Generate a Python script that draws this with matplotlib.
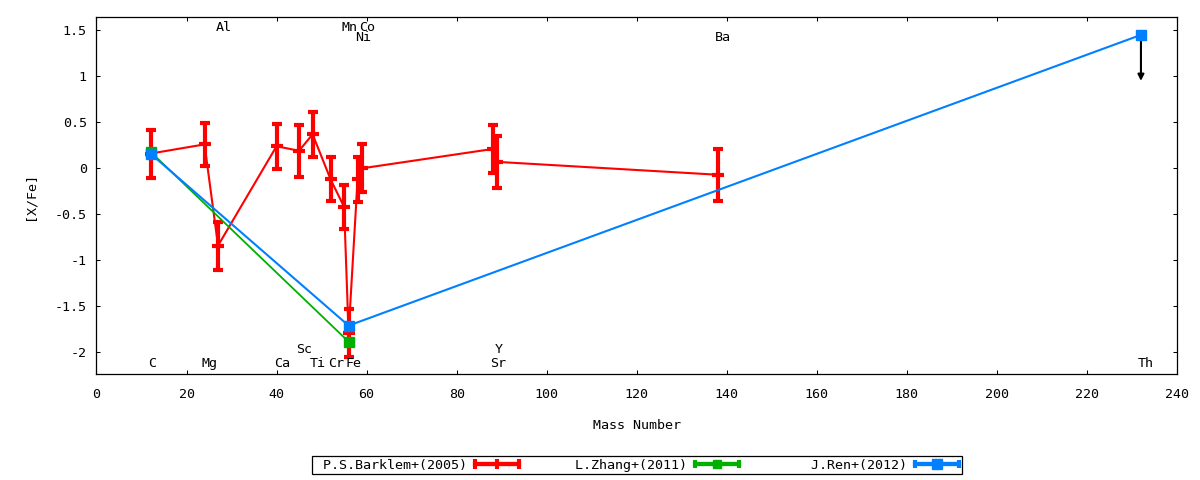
import numpy as np
import matplotlib
matplotlib.use("Agg")
import matplotlib.pyplot as plt
from matplotlib.container import ErrorbarContainer
from matplotlib.legend_handler import HandlerErrorbar
from matplotlib.ticker import MultipleLocator, FuncFormatter

plt.rcParams["font.family"] = "DejaVu Sans Mono"
plt.rcParams["font.size"] = 9.6
plt.rcParams["axes.unicode_minus"] = False

# P.S.Barklem+(2005)
barklem_mass = [12, 24, 27, 40, 45, 48, 52, 55, 56, 58, 59, 88, 89, 138]
barklem_xfe = [0.16, 0.26, -0.84, 0.24, 0.19, 0.37, -0.12, -0.42, -1.79, -0.12, 0.00, 0.21, 0.07, -0.07]
barklem_err = [0.26, 0.235, 0.26, 0.245, 0.28, 0.245, 0.24, 0.24, 0.26, 0.245, 0.26, 0.26, 0.28, 0.28]

# L.Zhang+(2011)
zhang_mass = [12, 56]
zhang_xfe = [0.18, -1.885]

# J.Ren+(2012), Th is an upper limit
ren_mass = [12, 56, 232]
ren_xfe = [0.16, -1.71, 1.45]
ren_upper = [False, False, True]

# element labels
elem_names = ["C", "Mg", "Al", "Ca", "Sc", "Ti", "Cr", "Mn", "Fe", "Ni", "Co", "Sr", "Y", "Ba", "Th"]
elem_mass = [12, 24, 27, 40, 45, 48, 52, 55, 56, 58, 59, 88, 89, 138, 232]
elem_y = [-2.12, -2.12, 1.53, -2.12, -1.965, -2.12, -2.12, 1.53, -2.12, 1.425, 1.53, -2.12, -1.965, 1.425, -2.12]

series_labels = ["P.S.Barklem+(2005)", "L.Zhang+(2011)", "J.Ren+(2012)"]

red = "#ff0000"
green = "#00b000"
blue = "#0080ff"

fig = plt.figure(figsize=(12, 4.8), dpi=100)
ax = fig.add_axes([0.0804, 0.2208, 0.9004, 0.7431])

ax.errorbar(barklem_mass, barklem_xfe, yerr=barklem_err, color=red, lw=1.5,
            elinewidth=3, capsize=3.6, capthick=3, marker="_", ms=8.5, mew=3, zorder=2)
ax.plot(zhang_mass, zhang_xfe, color=green, lw=1.3, marker="s", ms=7.5, zorder=3)
ax.plot(ren_mass, ren_xfe, color=blue, lw=1.5, marker="s", ms=7.5, zorder=4)

arrow_len = 0.5
for m, v, up in zip(ren_mass, ren_xfe, ren_upper):
    if up:
        ax.annotate("", xy=(m, v - arrow_len), xytext=(m, v),
                    arrowprops=dict(arrowstyle="-|>", color="black", lw=1.5,
                                    mutation_scale=9, shrinkA=0, shrinkB=0),
                    zorder=3)

for name, m, y in zip(elem_names, elem_mass, elem_y):
    ax.text(m - 0.6, y, name, ha="left", va="center")

ax.set_xlim(0, 240)
ax.set_ylim(-2.236, 1.641)
ax.xaxis.set_major_locator(MultipleLocator(20))
ax.yaxis.set_major_locator(MultipleLocator(0.5))
ax.yaxis.set_major_formatter(FuncFormatter(lambda v, p: "%g" % round(v, 3) if abs(v) > 1e-9 else "0"))
ax.tick_params(direction="in", top=True, right=True, length=3.2, width=0.75)
ax.tick_params(axis="x", pad=10)
ax.tick_params(axis="y", pad=7)
for s in ax.spines.values():
    s.set_linewidth(0.9)

ax.set_xlabel("Mass Number", labelpad=13)
ax.set_ylabel("[X/Fe]", labelpad=13)

# legend proxies drawn as horizontal error bars, gnuplot style
h1 = ax.errorbar([np.nan], [np.nan], xerr=[0], color=red, lw=3, elinewidth=3,
                 capsize=3.6, capthick=3, marker="|", ms=7, mew=3)
h2 = ax.errorbar([np.nan], [np.nan], xerr=[0], color=green, lw=3, elinewidth=3,
                 capsize=3, capthick=3, marker="s", ms=6)
h3 = ax.errorbar([np.nan], [np.nan], xerr=[0], color=blue, lw=3, elinewidth=3,
                 capsize=3, capthick=3, marker="s", ms=7)
labels = [s.rjust(19) for s in series_labels]
leg = fig.legend([h1, h2, h3], labels, loc="center",
                 bbox_to_anchor=(637 / 1200, 1 - 465 / 480), ncol=3,
                 markerfirst=False, handlelength=3.3, handletextpad=0.6,
                 columnspacing=1.2, borderpad=0.2, fancybox=False,
                 edgecolor="black", framealpha=1,
                 handler_map={ErrorbarContainer: HandlerErrorbar(xerr_size=1.65)})
leg.get_frame().set_linewidth(0.9)

fig.savefig("out.png", dpi=100)
